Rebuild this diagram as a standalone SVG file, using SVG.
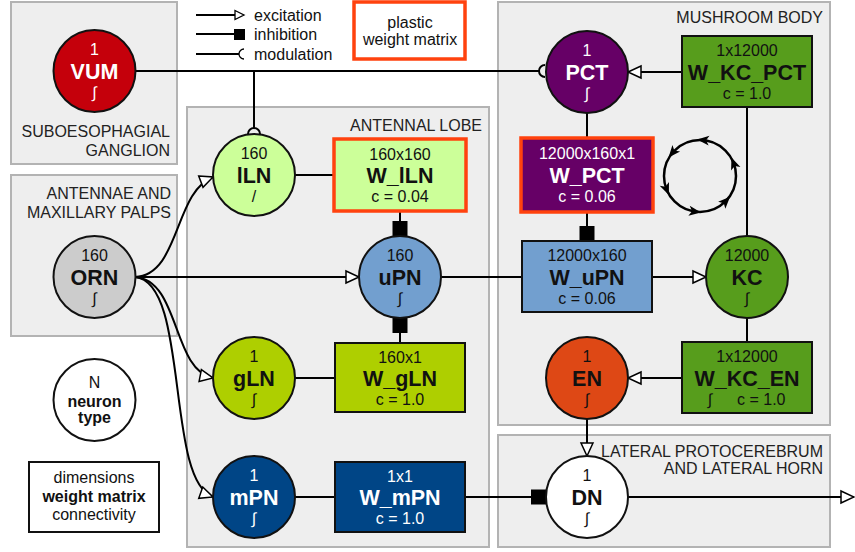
<svg xmlns="http://www.w3.org/2000/svg" xmlns:xlink="http://www.w3.org/1999/xlink" width="855" height="552" viewBox="0 0 855 552">
<style>
text{font-family:"Liberation Sans",Arial,sans-serif;font-size:16px;fill:#111;}
.region{fill:#eeeeee;stroke:#b3b3b3;stroke-width:2;}
.rlabel{fill:#222;}
.node{stroke:#111;stroke-width:2;}
.mat{stroke:#111;stroke-width:2;}
.plastic{stroke:#ff420e;stroke-width:3.5;}
.name{font-weight:bold;font-size:21.5px;}
.w{fill:#fff;}
.c{text-anchor:middle;}
.conn path{fill:none;stroke:#000;stroke-width:2;}
.mod{fill:#eeeeee;stroke:#000;stroke-width:1.5;}
</style>
<defs>
<marker id="exc" markerUnits="userSpaceOnUse" markerWidth="16" markerHeight="16" refX="14" refY="8" orient="auto" overflow="visible"><path d="M1,2 L14,8 L1,14 Z" fill="#fff" stroke="#000" stroke-width="1.5"/></marker>
<marker id="inh" markerUnits="userSpaceOnUse" markerWidth="16" markerHeight="16" refX="15" refY="7.5" orient="auto" overflow="visible"><rect width="15" height="15" fill="#000"/></marker>
<path id="ah" d="M6,0 L-6,-5 L-3,0 L-6,5 Z" fill="#000"/>
</defs>

<g id="regions">
<rect class="region" x="11" y="2" width="166" height="162"/>
<text class="rlabel" x="170" y="137" text-anchor="end">SUBOESOPHAGIAL</text>
<text class="rlabel" x="170" y="156" text-anchor="end">GANGLION</text>
<rect class="region" x="11" y="175" width="166" height="161"/>
<text class="rlabel" x="171" y="199" text-anchor="end">ANTENNAE AND</text>
<text class="rlabel" x="171" y="218" text-anchor="end">MAXILLARY PALPS</text>
<rect class="region" x="187" y="107" width="302" height="440"/>
<text class="rlabel" x="482" y="131" text-anchor="end">ANTENNAL LOBE</text>
<rect class="region" x="498" y="2" width="332" height="423"/>
<text class="rlabel" x="823" y="23" text-anchor="end">MUSHROOM BODY</text>
<rect class="region" x="498" y="435" width="332" height="112"/>
<text class="rlabel" x="823" y="457" text-anchor="end">LATERAL PROTOCEREBRUM</text>
<text class="rlabel" x="823" y="474" text-anchor="end">AND LATERAL HORN</text>
</g>

<g id="legend">
<path d="M196,15 H235" stroke="#000" stroke-width="2" fill="none"/>
<path d="M235,10.5 L244,15 L235,19.5 Z" fill="#fff" stroke="#000" stroke-width="1.3"/>
<text x="254" y="21">excitation</text>
<path d="M196,34 H234" stroke="#000" stroke-width="2" fill="none"/>
<rect x="234" y="29" width="11" height="11" fill="#000"/>
<text x="254" y="40">inhibition</text>
<path d="M196,54 H239" stroke="#000" stroke-width="2" fill="none"/>
<path d="M244,49 A5,5 0 0 0 244,59" fill="#fff" stroke="#000" stroke-width="1.3"/>
<text x="254" y="60">modulation</text>
<rect x="354" y="2" width="111" height="57" fill="#fff" class="plastic"/>
<text class="c" x="410" y="28">plastic</text>
<text class="c" x="410" y="45">weight matrix</text>
<g id="legend-neuron">
<circle class="node" cx="94.5" cy="400" r="41" fill="#fff"/>
<text class="c" x="94.5" y="388">N</text>
<text class="c" x="94.5" y="407" font-weight="bold">neuron</text>
<text class="c" x="94.5" y="423" font-weight="bold">type</text>
</g>
<g id="legend-matrix">
<rect class="mat" x="29" y="462" width="130" height="70" fill="#fff"/>
<text class="c" x="94" y="483">dimensions</text>
<text class="c" x="94" y="502" font-weight="bold">weight matrix</text>
<text class="c" x="94" y="520">connectivity</text>
</g>
</g>

<g id="connectors" class="conn">
<path d="M135,71 H539"/>
<path class="mod" d="M545,65 A6,6 0 0 0 545,77"/>
<path d="M254,71 V128"/>
<path class="mod" d="M248,134 A6,6 0 0 1 260,134"/>
<path d="M135,277 H359" marker-end="url(#exc)"/>
<path d="M135,277 C180,275 174,192 213,177" marker-end="url(#exc)"/>
<path d="M135,277 C180,280 172,370 213,378" marker-end="url(#exc)"/>
<path d="M135,277 C190,282 165,480 213,497" marker-end="url(#exc)"/>
<path d="M295,175 H334"/>
<path d="M400,211 V236" marker-end="url(#inh)"/>
<path d="M400,343 V318" marker-end="url(#inh)"/>
<path d="M295,378 H335"/>
<path d="M295,497 H335"/>
<path d="M465,497 H546" marker-end="url(#inh)"/>
<path d="M441,277 H522"/>
<path d="M652,277 H706" marker-end="url(#exc)"/>
<path d="M587,113 V138"/>
<path d="M587,212 V241" marker-end="url(#inh)"/>
<path d="M682,72 H628" marker-end="url(#exc)"/>
<path d="M747,107 V236"/>
<path d="M747,318 V342"/>
<path d="M682,378 H628" marker-end="url(#exc)"/>
<path d="M587,419 V456" marker-end="url(#exc)"/>
<path d="M628,497 H854" marker-end="url(#exc)"/>
</g>

<g id="cycle">
<circle cx="700" cy="176" r="36" fill="none" stroke="#000" stroke-width="2.5"/>
<use xlink:href="#ah" transform="translate(703.1,140.1) rotate(-175)"/>
<use xlink:href="#ah" transform="translate(672.4,152.9) rotate(130)"/>
<use xlink:href="#ah" transform="translate(666.6,189.5) rotate(68)"/>
<use xlink:href="#ah" transform="translate(695,211.6) rotate(8)"/>
<use xlink:href="#ah" transform="translate(725.9,201) rotate(-46)"/>
<use xlink:href="#ah" transform="translate(733.6,163.1) rotate(-111)"/>
</g>

<g id="VUM">
<circle class="node" cx="94.5" cy="71" r="41" fill="#c5000b"/>
<text class="c w" x="94.5" y="55">1</text>
<text class="c w name" x="94.5" y="79">VUM</text>
<text class="c w" x="94.5" y="98">∫</text>
</g>
<g id="ORN">
<circle class="node" cx="94.5" cy="277" r="41" fill="#cccccc"/>
<text class="c" x="94.5" y="261">160</text>
<text class="c name" x="94.5" y="285">ORN</text>
<text class="c" x="94.5" y="304">∫</text>
</g>
<g id="lLN">
<circle class="node" cx="254" cy="175" r="41" fill="#ccff99"/>
<text class="c" x="254" y="159">160</text>
<text class="c name" x="254" y="183">lLN</text>
<text class="c" x="254" y="202">/</text>
</g>
<g id="gLN">
<circle class="node" cx="254" cy="378" r="41" fill="#aecf00"/>
<text class="c" x="254" y="362">1</text>
<text class="c name" x="254" y="386">gLN</text>
<text class="c" x="254" y="405">∫</text>
</g>
<g id="mPN">
<circle class="node" cx="254" cy="497" r="41" fill="#004586"/>
<text class="c w" x="254" y="481">1</text>
<text class="c w name" x="254" y="505">mPN</text>
<text class="c w" x="254" y="524">∫</text>
</g>
<g id="uPN">
<circle class="node" cx="400" cy="277" r="41" fill="#729fcf"/>
<text class="c" x="400" y="261">160</text>
<text class="c name" x="400" y="285">uPN</text>
<text class="c" x="400" y="304">∫</text>
</g>
<g id="W_lLN">
<rect class="plastic" x="334" y="139" width="132" height="72" fill="#ccff99"/>
<text class="c" x="400" y="160">160x160</text>
<text class="c name" x="400" y="183">W_lLN</text>
<text class="c" x="400" y="202">c = 0.04</text>
</g>
<g id="W_gLN">
<rect class="mat" x="335" y="343" width="130" height="69" fill="#aecf00"/>
<text class="c" x="400" y="363">160x1</text>
<text class="c name" x="400" y="386">W_gLN</text>
<text class="c" x="400" y="405">c = 1.0</text>
</g>
<g id="W_mPN">
<rect class="mat" x="335" y="462" width="130" height="70" fill="#004586"/>
<text class="c w" x="400" y="482">1x1</text>
<text class="c w name" x="400" y="505">W_mPN</text>
<text class="c w" x="400" y="524">c = 1.0</text>
</g>
<g id="PCT">
<circle class="node" cx="587" cy="72" r="41" fill="#660066"/>
<text class="c w" x="587" y="56">1</text>
<text class="c w name" x="587" y="80">PCT</text>
<text class="c w" x="587" y="99">∫</text>
</g>
<g id="W_KC_PCT">
<rect class="mat" x="682" y="36" width="130" height="71" fill="#579d1c"/>
<text class="c" x="747" y="56">1x12000</text>
<text class="c name" x="747" y="80">W_KC_PCT</text>
<text class="c" x="747" y="99">c = 1.0</text>
</g>
<g id="W_PCT">
<rect class="plastic" x="521" y="138" width="132" height="74" fill="#660066"/>
<text class="c w" x="587" y="159">12000x160x1</text>
<text class="c w name" x="587" y="183">W_PCT</text>
<text class="c w" x="587" y="202">c = 0.06</text>
</g>
<g id="W_uPN">
<rect class="mat" x="522" y="241" width="130" height="71" fill="#729fcf"/>
<text class="c" x="587" y="261">12000x160</text>
<text class="c name" x="587" y="285">W_uPN</text>
<text class="c" x="587" y="304">c = 0.06</text>
</g>
<g id="KC">
<circle class="node" cx="747" cy="277" r="41" fill="#579d1c"/>
<text class="c" x="747" y="261">12000</text>
<text class="c name" x="747" y="285">KC</text>
<text class="c" x="747" y="304">∫</text>
</g>
<g id="EN">
<circle class="node" cx="587" cy="378" r="41" fill="#de4815"/>
<text class="c" x="587" y="362">1</text>
<text class="c name" x="587" y="386">EN</text>
<text class="c" x="587" y="405">∫</text>
</g>
<g id="W_KC_EN">
<rect class="mat" x="682" y="342" width="130" height="71" fill="#579d1c"/>
<text class="c" x="747" y="362">1x12000</text>
<text class="c name" x="747" y="386">W_KC_EN</text>
<text class="c" x="710" y="405">∫</text>
<text x="737" y="405">c = 1.0</text>
</g>
<g id="DN">
<circle class="node" cx="587" cy="497" r="41" fill="#ffffff"/>
<text class="c" x="587" y="481">1</text>
<text class="c name" x="587" y="505">DN</text>
<text class="c" x="587" y="524">∫</text>
</g>
</svg>
